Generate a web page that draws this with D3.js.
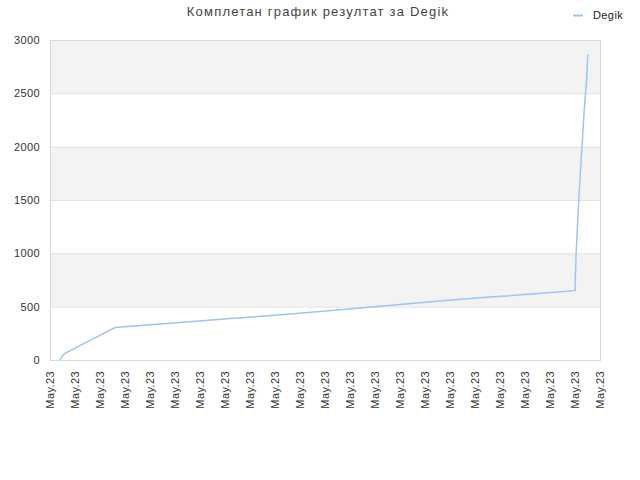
<!DOCTYPE html>
<meta charset="utf-8">
<style>
body { margin: 0; background: #fff; }
text { font-family: "Liberation Sans", Arial, sans-serif; }
.title { font-size: 13px; fill: #444; letter-spacing: 1.2px; }
.tick text { font-size: 11px; fill: #333; letter-spacing: 0.4px; }
.legend text { font-size: 11px; fill: #222; letter-spacing: 0.4px; }
</style>
<svg width="640" height="480"></svg>
<script src="https://d3js.org/d3.v7.min.js"></script>
<script>

var title = "Комплетан график резултат за Degik";
var seriesName = "Degik";

// x positions in tick units (0 = first "May.23" tick, 22 = last)
var xs = [0.4, 0.48, 0.6, 1.2, 1.8, 2.6, 4.0, 5.6, 7.2, 9.0, 10.8, 12.4, 14.0, 15.8, 17.6, 19.4, 21.0,
          21.04, 21.13, 21.21, 21.29, 21.37, 21.47, 21.51];
var values = [0, 35, 63, 135, 208, 304, 330, 358, 388, 420, 455, 487, 521, 558, 590, 620, 650,
              971, 1410, 1739, 2037, 2350, 2647, 2866];
var xTickLabels = d3.range(23).map(() => "May.23");
var yTicks = [0, 500, 1000, 1500, 2000, 2500, 3000];

var svg = d3.select("svg"),
    margin = {top: 40, right: 40, bottom: 120, left: 50},
    width = 640 - margin.left - margin.right,
    height = 480 - margin.top - margin.bottom;

var x = d3.scaleLinear().domain([0, 22]).range([0, width]);
var y = d3.scaleLinear().domain([0, 3000]).range([height, 0]);

var g = svg.append("g").attr("transform", "translate(" + margin.left + "," + margin.top + ")");

// alternating bands
g.selectAll("rect.band")
  .data(d3.pairs(yTicks))
  .join("rect")
    .attr("class", "band")
    .attr("x", 0)
    .attr("width", width)
    .attr("y", d => y(d[1]))
    .attr("height", d => y(d[0]) - y(d[1]))
    .attr("fill", (d, i) => i % 2 ? "#f3f3f3" : "#fff");

// horizontal grid
g.selectAll("line.grid")
  .data(yTicks)
  .join("line")
    .attr("class", "grid")
    .attr("x1", 0).attr("x2", width)
    .attr("y1", d => y(d) + 0.5).attr("y2", d => y(d) + 0.5)
    .attr("stroke", "#e2e2e2");

g.append("rect")
    .attr("x", 0.5).attr("y", 0.5)
    .attr("width", width).attr("height", height)
    .attr("fill", "none")
    .attr("stroke", "#d9d9d9");

// y axis
var yAxis = g.append("g")
    .call(d3.axisLeft(y).tickValues(yTicks).tickSize(0).tickPadding(10).tickFormat(d3.format("d")));
yAxis.select(".domain").remove();

// x axis
var xAxis = g.append("g")
    .attr("transform", "translate(0," + height + ")")
    .call(d3.axisBottom(x).ticks(22).tickSize(0).tickFormat((d, i) => xTickLabels[i]));
xAxis.select(".domain").remove();
xAxis.selectAll("text")
    .attr("transform", "rotate(-90)")
    .attr("text-anchor", "end")
    .attr("x", -11)
    .attr("y", 0)
    .attr("dy", "0.35em");

// line
var line = d3.line()
    .x((d, i) => x(xs[i]))
    .y(d => y(d));

g.append("path")
    .datum(values)
    .attr("fill", "none")
    .attr("stroke", "#99c6f5")
    .attr("stroke-width", 1.5)
    .attr("d", line);

// title
svg.append("text")
    .attr("class", "title")
    .attr("x", 318)
    .attr("y", 16)
    .attr("text-anchor", "middle")
    .text(title);

// legend
var legend = svg.append("g").attr("class", "legend");
legend.append("line")
    .attr("x1", 573).attr("x2", 583)
    .attr("y1", 15.5).attr("y2", 15.5)
    .attr("stroke", "#99c6f5")
    .attr("stroke-width", 2);
legend.append("text")
    .attr("x", 593)
    .attr("y", 19)
    .text(seriesName);

</script>
